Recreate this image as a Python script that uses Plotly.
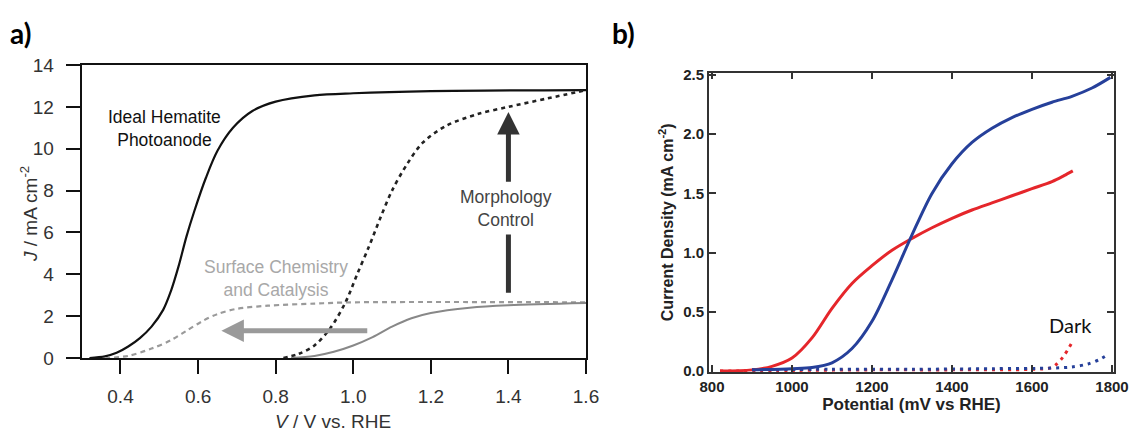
import plotly.graph_objects as go

# ---------------- Panel a data (V vs RHE, J mA cm-2) ----------------
ideal_v = [0.32, 0.36, 0.39, 0.42, 0.45, 0.48, 0.51, 0.53, 0.55, 0.57, 0.59, 0.62, 0.65, 0.69, 0.74, 0.80, 0.90, 1.0, 1.2, 1.6]
ideal_j = [0.0, 0.08, 0.25, 0.55, 0.95, 1.5, 2.3, 3.2, 4.4, 5.8, 7.0, 8.6, 9.9, 11.0, 11.8, 12.25, 12.55, 12.65, 12.75, 12.8]

morph_v = [0.82, 0.86, 0.90, 0.94, 0.98, 1.01, 1.04, 1.07, 1.10, 1.14, 1.18, 1.24, 1.32, 1.40, 1.50, 1.60]
morph_j = [0.0, 0.2, 0.6, 1.4, 2.66, 4.0, 5.3, 6.7, 8.0, 9.3, 10.3, 11.1, 11.65, 12.0, 12.4, 12.8]

current_v = [0.84, 0.90, 0.95, 1.00, 1.05, 1.10, 1.15, 1.20, 1.30, 1.40, 1.60]
current_j = [0.0, 0.1, 0.3, 0.6, 1.0, 1.5, 1.9, 2.15, 2.4, 2.52, 2.63]

surface_v = [0.36, 0.42, 0.48, 0.53, 0.57, 0.61, 0.65, 0.70, 0.78, 0.90, 1.00, 1.60]
surface_j = [0.0, 0.1, 0.45, 0.85, 1.3, 1.75, 2.1, 2.35, 2.5, 2.6, 2.66, 2.66]

a_xticks = [0.4, 0.6, 0.8, 1.0, 1.2, 1.4, 1.6]
a_xticklabels = ["0.4", "0.6", "0.8", "1.0", "1.2", "1.4", "1.6"]
a_yticks = [0, 2, 4, 6, 8, 10, 12, 14]

# ---------------- Panel b data (mV vs RHE, mA cm-2) ----------------
red_mv = [820, 900, 950, 1000, 1050, 1100, 1150, 1200, 1250, 1300, 1350, 1400, 1450, 1500, 1550, 1600, 1650, 1680, 1702]
red_j = [0.0, 0.01, 0.04, 0.11, 0.28, 0.53, 0.74, 0.89, 1.02, 1.12, 1.21, 1.29, 1.36, 1.42, 1.48, 1.54, 1.60, 1.65, 1.69]

blue_mv = [900, 1000, 1050, 1100, 1150, 1200, 1250, 1300, 1350, 1400, 1450, 1500, 1550, 1600, 1650, 1700, 1750, 1796]
blue_j = [0.01, 0.02, 0.03, 0.07, 0.19, 0.42, 0.77, 1.15, 1.50, 1.75, 1.93, 2.05, 2.14, 2.21, 2.27, 2.32, 2.39, 2.48]

dark_red_mv = [820, 1000, 1200, 1400, 1600, 1650, 1665, 1680, 1700]
dark_red_j = [0.0, 0.005, 0.01, 0.01, 0.015, 0.03, 0.07, 0.13, 0.24]

dark_blue_mv = [900, 1100, 1300, 1500, 1650, 1700, 1740, 1770, 1790]
dark_blue_j = [0.01, 0.015, 0.015, 0.02, 0.025, 0.035, 0.06, 0.1, 0.14]

b_xticks = [800, 1000, 1200, 1400, 1600, 1800]
b_yticks = [0.0, 0.5, 1.0, 1.5, 2.0, 2.5]
b_yticklabels = ["0.0", "0.5", "1.0", "1.5", "2.0", "2.5"]

RED = "#e5262b"
BLUE = "#26409a"

fig = go.Figure()

SPL = dict(shape="spline", smoothing=0.9)

# panel a traces
fig.add_trace(go.Scatter(x=ideal_v, y=ideal_j, mode="lines", line=dict(color="#111", width=2.2, **SPL),
                         xaxis="x", yaxis="y", showlegend=False))
fig.add_trace(go.Scatter(x=morph_v, y=morph_j, mode="lines", line=dict(color="#222", width=2.6, dash="4px,4px", **SPL),
                         xaxis="x", yaxis="y", showlegend=False))
fig.add_trace(go.Scatter(x=surface_v, y=surface_j, mode="lines", line=dict(color="#9a9a9a", width=2.2, dash="5px,4px", **SPL),
                         xaxis="x", yaxis="y", showlegend=False))
fig.add_trace(go.Scatter(x=current_v, y=current_j, mode="lines", line=dict(color="#888", width=2.0, **SPL),
                         xaxis="x", yaxis="y", showlegend=False))

# panel b traces
fig.add_trace(go.Scatter(x=dark_red_mv, y=dark_red_j, mode="lines", line=dict(color=RED, width=3, dash="3px,5px", **SPL),
                         xaxis="x2", yaxis="y2", showlegend=False))
fig.add_trace(go.Scatter(x=dark_blue_mv, y=dark_blue_j, mode="lines", line=dict(color=BLUE, width=3, dash="3px,5px", **SPL),
                         xaxis="x2", yaxis="y2", showlegend=False))
fig.add_trace(go.Scatter(x=red_mv, y=red_j, mode="lines", line=dict(color=RED, width=3, **SPL),
                         xaxis="x2", yaxis="y2", showlegend=False))
fig.add_trace(go.Scatter(x=blue_mv, y=blue_j, mode="lines", line=dict(color=BLUE, width=3, **SPL),
                         xaxis="x2", yaxis="y2", showlegend=False))

W, H = 1131, 434
A_FONT = "Liberation Sans, Arial, sans-serif"
LABEL_FONT = "Lato, Open Sans, sans-serif"

annotations = []
# panel labels
annotations.append(dict(text="<b>a)</b>", xref="paper", yref="paper", x=8 / W, y=1 - 33 / H, xanchor="left", yanchor="middle",
                        showarrow=False, font=dict(family=LABEL_FONT, size=28, color="#000")))
annotations.append(dict(text="<b>b)</b>", xref="paper", yref="paper", x=610 / W, y=1 - 33 / H, xanchor="left", yanchor="middle",
                        showarrow=False, font=dict(family=LABEL_FONT, size=28, color="#000")))

# panel a axis titles
annotations.append(dict(text="<i>J</i> / mA cm<sup>-2</sup>", xref="paper", yref="paper", x=29 / W, y=1 - 214 / H,
                        xanchor="center", yanchor="middle", textangle=-90, showarrow=False,
                        font=dict(family=A_FONT, size=19, color="#333")))
annotations.append(dict(text="<i>V</i> / V vs. RHE", xref="paper", yref="paper", x=333 / W, y=1 - 421 / H,
                        xanchor="center", yanchor="middle", showarrow=False,
                        font=dict(family=A_FONT, size=19, color="#333")))

# panel a text labels
annotations.append(dict(text="Ideal Hematite<br>Photoanode", x=0.514, y=10.95, xref="x", yref="y", showarrow=False,
                        font=dict(family=A_FONT, size=17.5, color="#111"), align="center"))
annotations.append(dict(text="Surface Chemistry<br>and Catalysis", x=0.80, y=3.78, xref="x", yref="y", showarrow=False,
                        font=dict(family=A_FONT, size=17.5, color="#a8a8a8"), align="center"))
annotations.append(dict(text="Morphology<br>Control", x=1.395, y=7.12, xref="x", yref="y", showarrow=False,
                        font=dict(family=A_FONT, size=17.5, color="#444"), align="center"))

# arrows in panel a
annotations.append(dict(x=0.66, y=1.3, ax=1.04, ay=1.3, xref="x", yref="y", axref="x", ayref="y", text="",
                        showarrow=True, arrowhead=2, arrowsize=0.9, arrowwidth=5, arrowcolor="#9a9a9a"))
annotations.append(dict(x=1.4, y=11.75, ax=1.4, ay=8.35, xref="x", yref="y", axref="x", ayref="y", text="",
                        showarrow=True, arrowhead=2, arrowsize=0.9, arrowwidth=5, arrowcolor="#333"))
annotations.append(dict(x=1.4, y=5.9, ax=1.4, ay=3.05, xref="x", yref="y", axref="x", ayref="y", text="",
                        showarrow=True, arrowhead=0, arrowwidth=5, arrowcolor="#333"))

# panel b label
annotations.append(dict(text="Dark", x=1695, y=0.39, xref="x2", yref="y2", showarrow=False,
                        font=dict(family=LABEL_FONT, size=20, color="#111")))

fig.update_layout(
    width=W, height=H,
    margin=dict(l=0, r=0, t=0, b=0, autoexpand=False),
    paper_bgcolor="white", plot_bgcolor="white",
    annotations=annotations,
    xaxis=dict(domain=[81.7 / W, 586 / W], range=[0.3, 1.6], tickvals=a_xticks, ticktext=a_xticklabels,
               ticks="outside", ticklen=14, tickwidth=2, tickcolor="#111", ticklabelstandoff=6,
               showline=True, linecolor="#111", linewidth=2, mirror=True, showgrid=False, zeroline=False,
               tickfont=dict(family=A_FONT, size=19, color="#333"), automargin=False,
               anchor="y"),
    yaxis=dict(domain=[1 - 358 / H, 1 - 65 / H], range=[0, 14], tickvals=a_yticks,
               ticks="outside", ticklen=14, tickwidth=2, tickcolor="#111", ticklabelstandoff=8,
               showline=True, linecolor="#111", linewidth=2, mirror=True, showgrid=False, zeroline=False,
               tickfont=dict(family=A_FONT, size=19, color="#333"), automargin=False,
               anchor="x"),
    xaxis2=dict(domain=[709 / W, 1114 / W], range=[792.5, 1805], tickvals=b_xticks,
                ticks="inside", ticklen=7, tickwidth=1.5, tickcolor="#333",
                showline=True, linecolor="#333", linewidth=1.8, mirror="ticks", showgrid=False, zeroline=False,
                tickfont=dict(family=A_FONT, size=15, color="#222", weight="bold"), automargin=False,
                title=dict(text="<b>Potential (mV vs RHE)</b>", font=dict(family=A_FONT, size=17, color="#222"), standoff=4),
                anchor="y2"),
    yaxis2=dict(domain=[1 - 372 / H, 1 - 72.5 / H], range=[-0.008, 2.521], tickvals=b_yticks, ticktext=b_yticklabels,
                ticks="inside", ticklen=7, tickwidth=1.5, tickcolor="#333",
                showline=True, linecolor="#333", linewidth=1.8, mirror="ticks", showgrid=False, zeroline=False,
                tickfont=dict(family=A_FONT, size=15, color="#222", weight="bold"), automargin=False,
                title=dict(text="<b>Current Density (mA cm<sup>-2</sup>)</b>", font=dict(family=A_FONT, size=16, color="#222"), standoff=6),
                anchor="x2"),
)

fig.write_html("out.html")
